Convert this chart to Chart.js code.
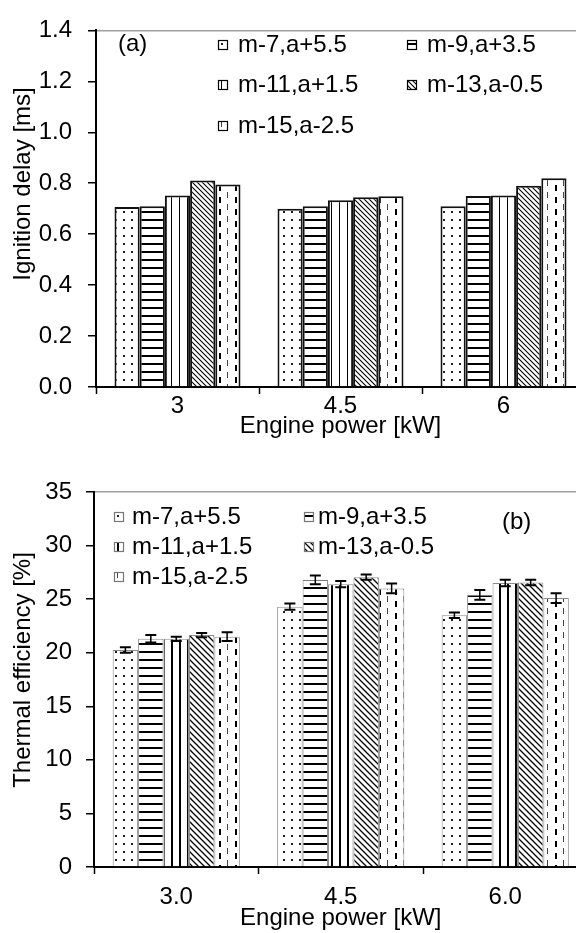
<!DOCTYPE html>
<html><head><meta charset="utf-8">
<script src="https://cdn.jsdelivr.net/npm/chart.js@4.4.0/dist/chart.umd.min.js"></script>
<style>
html,body{margin:0;padding:0;background:#fff;overflow:hidden;width:576px;height:933px;}
.box{position:absolute;left:0;width:600px;}
#wa{top:0;height:440px;}
#wb{top:440px;height:493px;}
</style></head><body>
<div class="box" id="wa"><canvas id="ca"></canvas></div>
<div class="box" id="wb"><canvas id="cb"></canvas></div>
<script>
// ---- data ----
const seriesNames = ['m-7,a+5.5','m-9,a+3.5','m-11,a+1.5','m-13,a-0.5','m-15,a-2.5'];
const powerLabelsA = ['3','4.5','6'];
const powerLabelsB = ['3.0','4.5','6.0'];
const yTicksA = ['0.0','0.2','0.4','0.6','0.8','1.0','1.2','1.4'];
const yTicksB = ['0','5','10','15','20','25','30','35'];

const delayM7  = [0.707, 0.700, 0.710];
const delayM9  = [0.710, 0.710, 0.750];
const delayM11 = [0.752, 0.733, 0.752];
const delayM13 = [0.811, 0.745, 0.790];
const delayM15 = [0.795, 0.749, 0.820];

const effM7  = [20.25, 24.3, 23.5];
const effM9  = [21.3, 26.8, 25.4];
const effM11 = [21.3, 26.4, 26.5];
const effM13 = [21.65, 27.05, 26.55];
const effM15 = [21.5, 26.0, 25.1];

const errM7  = [0.25, 0.30, 0.25];
const errM9  = [0.35, 0.40, 0.45];
const errM11 = [0.20, 0.30, 0.30];
const errM13 = [0.20, 0.25, 0.25];
const errM15 = [0.40, 0.45, 0.45];

const delaySeries = [delayM7, delayM9, delayM11, delayM13, delayM15];
const effSeries = [effM7, effM9, effM11, effM13, effM15];
const errSeries = [errM7, errM9, errM11, errM13, errM15];

// ---- styles ----
const FONT = "'Liberation Sans', Arial, sans-serif";
const kinds = ['dots','hlines','vlines','diag','dash'];

function makePattern(kind, o) {
  const c = document.createElement('canvas');
  const g = c.getContext('2d');
  let w = 8, h = 8;
  if (kind === 'diag') { w = o.dg; h = o.dg; }
  if (kind === 'dash') { w = 16; h = 12; }
  c.width = w; c.height = h;
  g.fillStyle = '#fff'; g.fillRect(0, 0, w, h);
  g.fillStyle = '#000';
  if (kind === 'dots') { g.fillStyle = '#222'; g.fillRect(3, 3, 2, 2); }
  if (kind === 'hlines') { g.fillRect(0, 3, w, 2); }
  if (kind === 'vlines') { g.fillRect(3, 0, o.vw, h); }
  if (kind === 'diag') {
    g.strokeStyle = '#000'; g.lineWidth = o.dl; g.beginPath();
    g.moveTo(-1, -1); g.lineTo(w + 1, h + 1);
    g.moveTo(-1, h - 1); g.lineTo(1, h + 1);
    g.moveTo(w - 1, -1); g.lineTo(w + 1, 1);
    g.stroke();
  }
  if (kind === 'dash') { g.fillStyle = '#444'; g.fillRect(3, 0, 1, 6); g.fillStyle = '#000'; g.fillRect(11, 5, 2, 6); }
  return g.createPattern(c, 'repeat');
}
const patsA = kinds.map(k => makePattern(k, {vw: 1, dg: 5, dl: 1.1}));
const patsB = kinds.map(k => makePattern(k, {vw: 2, dg: 6, dl: 1.3}));

function yTitlePlugin(text, x, y) {
  return { id: 'ytitle', afterDraw(chart) {
    const ctx = chart.ctx; ctx.save();
    ctx.translate(x, y); ctx.rotate(-Math.PI / 2);
    ctx.font = '24px ' + FONT; ctx.fillStyle = '#000';
    ctx.textAlign = 'center'; ctx.textBaseline = 'middle';
    ctx.fillText(text, 0, 0); ctx.restore();
  }};
}

function legendPlugin(boxX, textX, rowY, boxColor, pats, tag, tagX, tagY) {
  return { id: 'lg', afterDraw(chart) {
    const ctx = chart.ctx; ctx.save();
    ctx.font = '24px ' + FONT; ctx.textBaseline = 'middle'; ctx.textAlign = 'left';
    chart.data.datasets.forEach((ds, i) => {
      const col = i % 2, row = Math.floor(i / 2);
      const bx = boxX[col], by = rowY[row] - 5;
      ctx.save(); ctx.translate(bx, by);
      ctx.fillStyle = pats[i]; ctx.fillRect(0, 0, 10, 10);
      ctx.strokeStyle = boxColor; ctx.lineWidth = 1.2; ctx.strokeRect(0.5, 0.5, 9, 9);
      ctx.restore();
      ctx.fillStyle = '#000';
      ctx.fillText(ds.label, textX[col], rowY[row]);
    });
    ctx.fillText(tag, tagX, tagY);
    ctx.restore();
  }};
}

const errorBarPlugin = { id: 'errbars', afterDatasetsDraw(chart) {
  const ctx = chart.ctx, ys = chart.scales.y;
  chart.data.datasets.forEach((ds, i) => {
    chart.getDatasetMeta(i).data.forEach((bar, j) => {
      const v = ds.data[j], e = errSeries[i][j];
      const yt = ys.getPixelForValue(v + e), yb = ys.getPixelForValue(v - e), x = bar.x;
      ctx.save(); ctx.strokeStyle = '#000';
      ctx.lineWidth = 1.5; ctx.beginPath(); ctx.moveTo(x, yt); ctx.lineTo(x, yb); ctx.stroke();
      ctx.lineWidth = 2; ctx.beginPath();
      ctx.moveTo(x - 5.5, yt); ctx.lineTo(x + 5.5, yt);
      ctx.moveTo(x - 5.5, yb); ctx.lineTo(x + 5.5, yb); ctx.stroke();
      ctx.restore();
    });
  });
}};

function baseOptions(o) {
  return {
    animation: false, responsive: true, maintainAspectRatio: false,
    layout: { padding: { top: o.top, right: o.right, left: 0, bottom: 0 } },
    plugins: { legend: { display: false }, tooltip: { enabled: false } },
    datasets: { bar: { categoryPercentage: 0.773, barPercentage: 1 } },
    scales: {
      x: {
        grid: { offset: true, drawOnChartArea: false, tickLength: 7, tickColor: '#000', tickWidth: 1.5 },
        border: { color: '#000', width: 2 },
        ticks: { color: '#000', font: { family: FONT, size: 24, lineHeight: 1 }, padding: o.xpad, maxRotation: 0 },
        title: { display: true, text: 'Engine power [kW]', color: '#000', font: { family: FONT, size: 24, lineHeight: 1 }, padding: { top: 0, bottom: o.tpad } },
        afterFit(s) { s.height = o.xh; }
      },
      y: {
        min: 0, max: o.max,
        ticks: { stepSize: o.step, color: '#000', font: { family: FONT, size: 24 }, padding: o.ypad, callback: (v, i) => o.yt[i] },
        grid: { color: c => (c.tick && c.tick.value >= o.max - 1e-9) ? '#a0a0a0' : 'rgba(0,0,0,0)', tickColor: '#000', tickLength: 8, lineWidth: 1.5 },
        border: { color: '#000', width: 2 },
        afterFit(s) { s.width = o.yw; }
      }
    }
  };
}

new Chart(document.getElementById('ca'), {
  type: 'bar',
  data: { labels: powerLabelsA, datasets: seriesNames.map((n, i) => ({
    label: n, data: delaySeries[i], backgroundColor: patsA[i], borderColor: '#111', borderWidth: 2 })) },
  options: baseOptions({ top: 20, right: 15, xpad: 0, tpad: 2, xh: 53, max: 1.4, step: 0.2, ypad: 16, yt: yTicksA, yw: 96 }),
  plugins: [yTitlePlugin('Ignition delay [ms]', 23, 184),
            legendPlugin([218, 407], [238, 427], [45, 85, 126], '#000', patsA, '(a)', 118, 44)]
});

new Chart(document.getElementById('cb'), {
  type: 'bar',
  data: { labels: powerLabelsB, datasets: seriesNames.map((n, i) => ({
    label: n, data: effSeries[i], backgroundColor: patsB[i], borderColor: '#8a8a8a', borderWidth: 1 })) },
  options: baseOptions({ top: 52, right: 12.5, xpad: 11, tpad: 3, xh: 66, max: 35, step: 5, ypad: 14, yt: yTicksB, yw: 94 }),
  plugins: [errorBarPlugin, yTitlePlugin('Thermal efficiency [%]', 23, 230),
            legendPlugin([114, 304], [132, 318], [77, 107, 137], '#777', patsB, '(b)', 502, 82)]
});
</script>
</body></html>
